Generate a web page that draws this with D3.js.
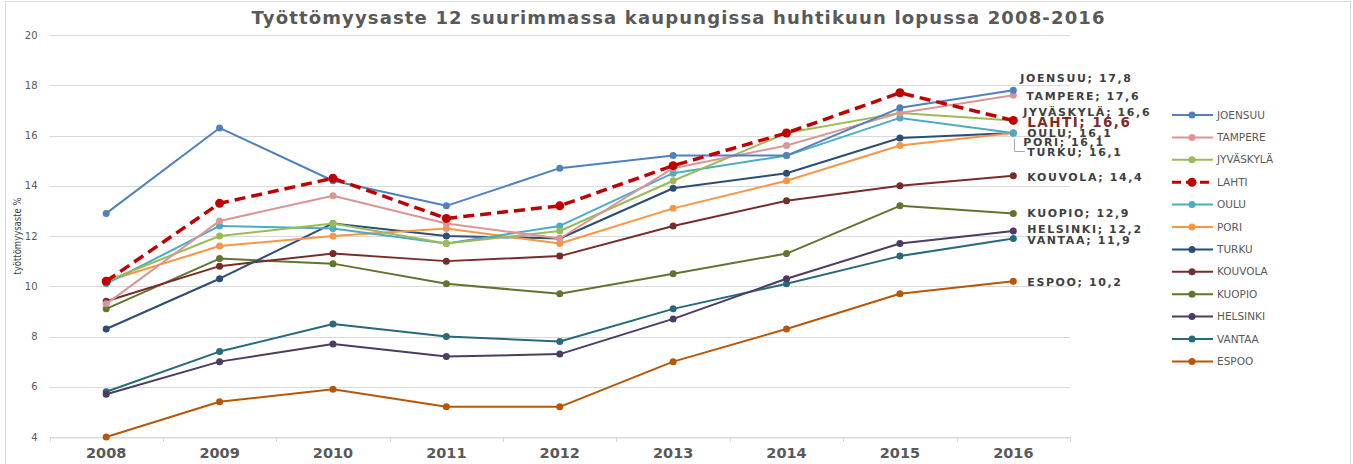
<!DOCTYPE html>
<html>
<head>
<meta charset="utf-8">
<script src="https://cdnjs.cloudflare.com/ajax/libs/d3/7.8.5/d3.min.js"></script>
<style>
  body { margin: 0; background: #fff; }
  text { font-family: "DejaVu Sans", Verdana, sans-serif; }
</style>
</head>
<body>
<script>
var years = ["2008", "2009", "2010", "2011", "2012", "2013", "2014", "2015", "2016"];
var cities = ["JOENSUU", "TAMPERE", "JYVÄSKYLÄ", "LAHTI", "OULU", "PORI", "TURKU",
  "KOUVOLA", "KUOPIO", "HELSINKI", "VANTAA", "ESPOO"];

var joensuu   = [12.9, 16.3, 14.2, 13.2, 14.7, 15.2, 15.2, 17.1, 17.8];
var tampere   = [9.3, 12.6, 13.6, 12.5, 11.9, 14.7, 15.6, 16.9, 17.6];
var jyvaskyla = [10.2, 12.0, 12.5, 11.7, 12.2, 14.2, 16.1, 16.9, 16.6];
var lahti     = [10.2, 13.3, 14.3, 12.7, 13.2, 14.8, 16.1, 17.7, 16.6];
var oulu      = [10.1, 12.4, 12.3, 11.7, 12.4, 14.5, 15.2, 16.7, 16.1];
var pori      = [10.2, 11.6, 12.0, 12.3, 11.7, 13.1, 14.2, 15.6, 16.1];
var turku     = [8.3, 10.3, 12.5, 12.0, 11.9, 13.9, 14.5, 15.9, 16.1];
var kouvola   = [9.4, 10.8, 11.3, 11.0, 11.2, 12.4, 13.4, 14.0, 14.4];
var kuopio    = [9.1, 11.1, 10.9, 10.1, 9.7, 10.5, 11.3, 13.2, 12.9];
var helsinki  = [5.7, 7.0, 7.7, 7.2, 7.3, 8.7, 10.3, 11.7, 12.2];
var vantaa    = [5.8, 7.4, 8.5, 8.0, 7.8, 9.1, 10.1, 11.2, 11.9];
var espoo     = [4.0, 5.4, 5.9, 5.2, 5.2, 7.0, 8.3, 9.7, 10.2];

var yTicks = [4, 6, 8, 10, 12, 14, 16, 18, 20];

var seriesValues = [joensuu, tampere, jyvaskyla, lahti, oulu, pori, turku,
  kouvola, kuopio, helsinki, vantaa, espoo];

// styling / layout
var colors = ["#4f81bd", "#d99694", "#9bbb59", "#c00000", "#4bacc6", "#f79646", "#2c4d75",
  "#772c2a", "#5f7530", "#4d3b62", "#276a7c", "#b65708"];
// manual nudges of the end labels (dx, dy in px)
var labelNudge = [[7, -12], [13, 1], [10, -8.5], [14, 2], [14, 0.5], [10, 9], [14, 19],
  [14, 1], [14, 0], [14, -1.5], [14, 1.5], [14, 1]];

var W = 1353, H = 464;
var svg = d3.select("body").append("svg").attr("width", W).attr("height", H);

svg.append("rect").attr("x", 5.5).attr("y", 1.5).attr("width", 1345).attr("height", 470)
  .attr("fill", "#fff").attr("stroke", "#d9d9d9");

var x = d3.scaleBand().domain(years).range([49.5, 1070]).padding(0);
var y = d3.scaleLinear().domain([4, 20]).range([437, 35]);
var cx = function(i) { return x(years[i]) + x.bandwidth() / 2; };

// gridlines
svg.append("g").selectAll("line").data(yTicks).enter().append("line")
  .attr("x1", 49.5).attr("x2", 1070)
  .attr("y1", function(d) { return Math.round(y(d)) + 0.5; })
  .attr("y2", function(d) { return Math.round(y(d)) + 0.5; })
  .attr("stroke", "#d9d9d9").attr("stroke-width", 1);

// y axis labels
var yAxis = d3.axisLeft(y).tickValues(yTicks).tickSize(0).tickPadding(12);
var gy = svg.append("g").attr("transform", "translate(49.5,0)").call(yAxis);
gy.select(".domain").remove();
gy.selectAll("text").attr("fill", "#595959").style("font-size", "10px")
  .style("font-family", "DejaVu Sans");

// x axis
var xAxis = d3.axisBottom(x).tickSize(0).tickPadding(10);
var gx = svg.append("g").attr("transform", "translate(0,437.5)").call(xAxis);
gx.select(".domain").attr("stroke", "#d9d9d9");
gx.selectAll("text").attr("fill", "#595959").style("font-size", "14.5px")
  .style("font-weight", "bold").style("font-family", "DejaVu Sans");
svg.append("g").selectAll("line").data(d3.range(years.length + 1)).enter().append("line")
  .attr("x1", function(i) { return Math.round(49.5 + i * x.bandwidth()) + 0.5; })
  .attr("x2", function(i) { return Math.round(49.5 + i * x.bandwidth()) + 0.5; })
  .attr("y1", 437.5).attr("y2", 442).attr("stroke", "#d9d9d9");

// title
svg.append("text").attr("x", 678).attr("y", 24).attr("text-anchor", "middle")
  .attr("fill", "#595959").style("font-size", "18px").style("font-weight", "bold")
  .attr("textLength", 853).attr("lengthAdjust", "spacing")
  .text("Työttömyysaste 12 suurimmassa kaupungissa huhtikuun lopussa 2008-2016");

// y title
svg.append("text").attr("transform", "translate(21,236) rotate(-90)")
  .attr("text-anchor", "middle").attr("fill", "#404040").style("font-size", "11px")
  .attr("textLength", 77).attr("lengthAdjust", "spacingAndGlyphs")
  .text("työttömyysaste %");

var line = d3.line().x(function(d, i) { return cx(i); }).y(function(d) { return y(d); });

// draw series (bottom of the list first so upper ones sit on top, LAHTI last)
var order = [11, 10, 9, 8, 7, 6, 5, 4, 2, 1, 0, 3];
order.forEach(function(s) {
  var isLahti = cities[s] === "LAHTI";
  var g = svg.append("g");
  g.append("path").datum(seriesValues[s]).attr("d", line).attr("fill", "none")
    .attr("stroke", colors[s]).attr("stroke-width", isLahti ? 3.5 : 2)
    .attr("stroke-dasharray", isLahti ? "11,6" : null)
    .attr("stroke-linejoin", "round");
  g.selectAll("circle").data(seriesValues[s]).enter().append("circle")
    .attr("cx", function(d, i) { return cx(i); })
    .attr("cy", function(d) { return y(d); })
    .attr("r", isLahti ? 4.5 : 3.5).attr("fill", colors[s]);
});

// leader line for PORI/TURKU
svg.append("path").attr("d", "M1014.5,139V151.5H1025").attr("fill", "none")
  .attr("stroke", "#a6a6a6").attr("stroke-width", 1);

// end labels
var last = years.length - 1;
svg.append("g").selectAll("text").data(cities).enter().append("text")
  .attr("x", function(d, i) { return cx(last) + labelNudge[i][0]; })
  .attr("y", function(d, i) { return y(seriesValues[i][last]) + labelNudge[i][1]; })
  .attr("dy", "0.36em")
  .attr("fill", function(d) { return d === "LAHTI" ? "#7b2c2c" : "#404040"; })
  .style("font-size", function(d) { return d === "LAHTI" ? "13.5px" : "11px"; })
  .style("letter-spacing", function(d) { return d === "LAHTI" ? "1.45px" : "1.6px"; })
  .style("font-weight", "bold")
  .text(function(d, i) { return d + "; " + String(seriesValues[i][last].toFixed(1)).replace(".", ","); });

// legend
var lg = svg.append("g").attr("transform", "translate(1172,115)");
var rows = lg.selectAll("g").data(cities).enter().append("g")
  .attr("transform", function(d, i) { return "translate(0," + (i * 22.4) + ")"; });
rows.append("line").attr("x1", 0).attr("x2", 41).attr("y1", 0).attr("y2", 0)
  .attr("stroke", function(d, i) { return colors[i]; })
  .attr("stroke-width", function(d) { return d === "LAHTI" ? 3 : 2; })
  .attr("stroke-dasharray", function(d) { return d === "LAHTI" ? "9,5" : null; });
rows.append("circle").attr("cx", 20).attr("cy", 0)
  .attr("r", function(d) { return d === "LAHTI" ? 4.5 : 3.5; })
  .attr("fill", function(d, i) { return colors[i]; });
rows.append("text").attr("x", 45).attr("y", 0).attr("dy", "0.35em")
  .attr("fill", "#595959").style("font-size", "10.5px").text(function(d) { return d; });
</script>
</body>
</html>
